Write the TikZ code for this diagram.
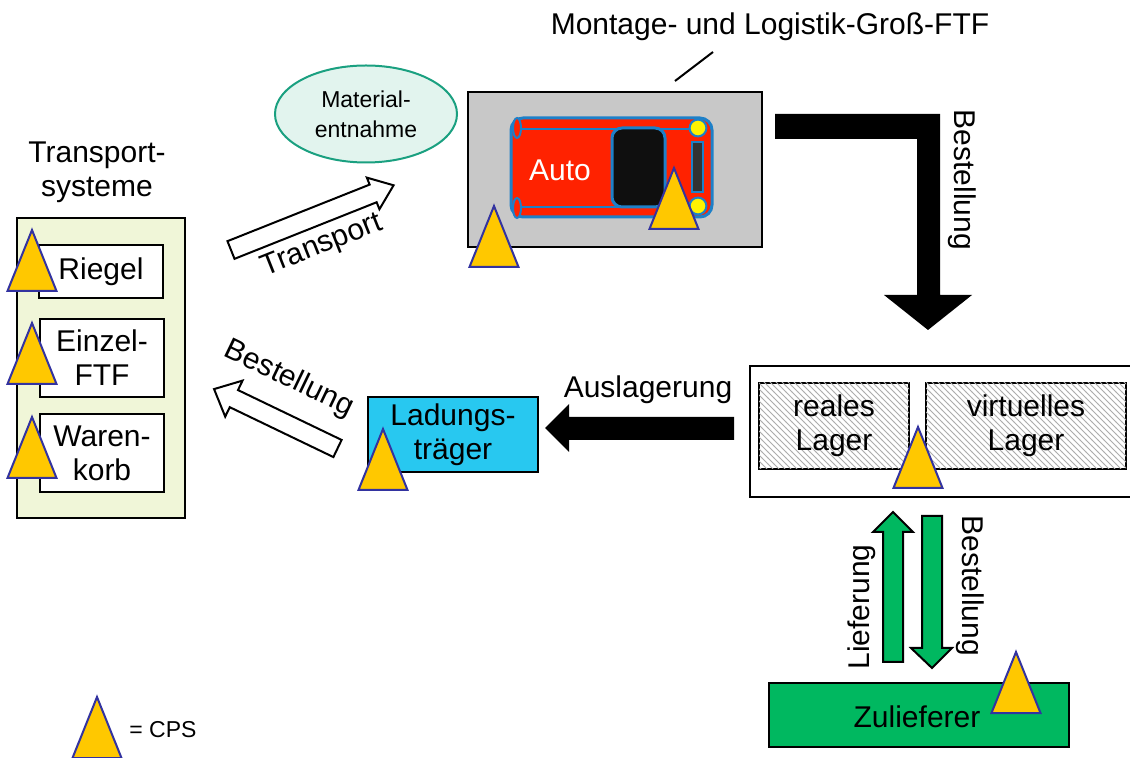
\documentclass[tikz,border=0pt]{standalone}
\usepackage{fontspec}
\setmainfont{Liberation Sans}
\usetikzlibrary{shapes.geometric,patterns}

\definecolor{cpsyellow}{RGB}{255,200,0}
\definecolor{cpsblue}{RGB}{51,51,160}
\definecolor{systembg}{RGB}{240,246,216}
\definecolor{ftfgray}{RGB}{200,200,200}
\definecolor{carred}{RGB}{255,34,0}
\definecolor{carblue}{RGB}{30,128,200}
\definecolor{mintbg}{RGB}{226,244,238}
\definecolor{mintline}{RGB}{26,160,128}
\definecolor{ladcyan}{RGB}{40,200,240}
\definecolor{supgreen}{RGB}{0,184,96}

\tikzset{
  box/.style={draw, line width=1pt, inner sep=0pt, align=center,
    font=\fontsize{15}{17}\selectfont},
  txt/.style={inner sep=0pt, align=center, font=\fontsize{15}{17}\selectfont},
  hatched/.style={fill=white, postaction={pattern=north west lines, pattern color=gray!65}},
  cps/.style={draw=cpsblue, fill=cpsyellow, line width=1pt},
  blockarrow/.style={draw, line width=1pt, line join=miter}
}

\begin{document}
\begin{tikzpicture}[x=0.5pt,y=-0.5pt]
\useasboundingbox (0,0) rectangle (1130,758);

% Transportsysteme
\node[txt] (systitle) at (97,172) {Transport-\\systeme};
\node[box, fill=systembg, minimum width=84pt, minimum height=150pt] (systeme) at (101,368) {};
\node[box, fill=white, minimum width=62pt, minimum height=26.5pt] (riegel) at (101,271.5) {Riegel};
\node[box, fill=white, minimum width=62pt, minimum height=39pt] (einzel) at (102,358) {Einzel-\\FTF};
\node[box, fill=white, minimum width=62pt, minimum height=39pt] (waren) at (102,453) {Waren-\\korb};

% Materialentnahme
\node[ellipse, draw=mintline, fill=mintbg, line width=1pt, minimum width=91pt, minimum height=48.5pt,
  inner sep=0pt, align=center, font=\fontsize{11.5}{15}\selectfont] (entnahme) at (366,114) {Material-\\entnahme};

% Grossfahrzeug mit Auto
\node[txt] (ftftitle) at (770,27) {Montage- und Logistik-Groß-FTF};
\node[box, fill=ftfgray, minimum width=147pt, minimum height=77.5pt] (ftf) at (615,169.5) {};
\draw[line width=1pt] (675,81) -- (713,52);
\node[draw=carblue, fill=carred, line width=1.5pt, rounded corners=6pt,
  minimum width=100.5pt, minimum height=49.5pt] (auto) at (611.5,167.5) {};
\draw[carblue, line width=1.2pt] (517,129) -- (698,129) (517,207) -- (698,207);
\node[draw=carblue, fill=black!94, line width=1.5pt, rounded corners=5pt,
  minimum width=26.5pt, minimum height=39.5pt] (scheibe) at (638.5,167.5) {};
\node[draw=carblue, fill=black!80, line width=1pt, minimum width=5.5pt, minimum height=25pt,
  inner sep=0pt] (heck) at (697.5,167) {};
\foreach \y in {128,206}
  \draw[carblue, fill=yellow, line width=1pt] (698,\y) circle (4.2pt);
\foreach \y in {128,208}
  \draw[carblue, fill=carred, line width=1pt] (517,\y) ellipse (2pt and 5pt);
\node[txt, text=white] (autolabel) at (560,170) {Auto};

% Transport
\begin{scope}[shift={(231,250)}, rotate=21.7]
\draw[blockarrow, fill=white] (0,-9.5) -- (153,-9.5) -- (153,-17) -- (175,0)
  -- (153,17) -- (153,9.5) -- (0,9.5) -- cycle;
\end{scope}
\node[txt, rotate=21.7] (transport) at (322,246) {Transport};

% Bestellung an Transportsysteme
\begin{scope}[shift={(337.5,448.5)}, rotate=154.3]
\draw[blockarrow, fill=white] (0,-9.5) -- (115,-9.5) -- (115,-20) -- (137,0)
  -- (115,20) -- (115,9.5) -- (0,9.5) -- cycle;
\end{scope}
\node[txt, rotate=-25.7] (bestlinks) at (289,379) {Bestellung};

% Ladungstraeger
\node[box, fill=ladcyan, minimum width=85pt, minimum height=37.5pt] (ladung) at (453,434.5) {Ladungs-\\träger};

% Auslagerung
\fill (734,417) -- (569,417) -- (569,404) -- (545,428) -- (569,452) -- (569,440) -- (734,440) -- cycle;
\node[txt] (auslagerung) at (648,390) {Auslagerung};

% Lager
\draw[line width=1pt] (1131,366) -- (750,366) -- (750,497) -- (1131,497);
\node[box, hatched, minimum width=75pt, minimum height=43pt] (reales) at (834,426) {reales\\Lager};
\node[box, hatched, minimum width=100pt, minimum height=43pt] (virtuell) at (1026,426) {virtuelles\\Lager};

% Bestellung vom FTF
\fill (775,114) -- (940,114) -- (940,295) -- (972,295) -- (928,330) -- (884,295)
  -- (917,295) -- (917,139) -- (775,139) -- cycle;
\node[txt, rotate=-90] (bestoben) at (962,180) {Bestellung};

% Zulieferer
\draw[blockarrow, fill=supgreen] (883,662) -- (883,532) -- (873,532) -- (893,512)
  -- (913,532) -- (903,532) -- (903,662) -- cycle;
\draw[blockarrow, fill=supgreen] (922,516) -- (942,516) -- (942,648) -- (952,648)
  -- (932,668) -- (911,648) -- (922,648) -- cycle;
\node[txt, rotate=90] (lieferung) at (862,607) {Lieferung};
\node[txt, rotate=-90] (bestunten) at (970,586) {Bestellung};
\node[box, fill=supgreen, minimum width=150pt, minimum height=32pt] (zulieferer) at (919,715) {};
\node[txt] (zulabel) at (917,717) {Zulieferer};

% CPS
\foreach \x/\y in {32/230, 32/323, 32/417, 494/206, 674/168, 383/429, 918/427, 1016/652, 97/697}
  \draw[cps] (\x,\y) -- ++(-24.5,61) -- ++(49,0) -- cycle;
\node[txt, font=\fontsize{11.5}{13}\selectfont] (legende) at (163,730) {= CPS};

\end{tikzpicture}
\end{document}
